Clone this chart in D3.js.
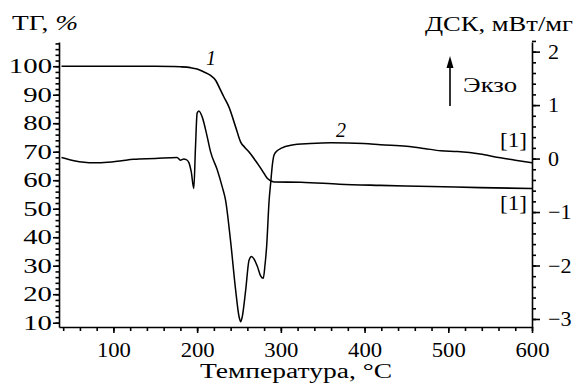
<!DOCTYPE html>
<html>
<head>
<meta charset="utf-8">
<script src="https://cdn.jsdelivr.net/npm/d3@7"></script>
<style>
body { margin: 0; background: #fff; }
text { font-family: "Liberation Serif", serif; fill: #000; }
.axis path, .axis line { stroke: #000; stroke-width: 1.6; }
</style>
</head>
<body>
<div id="vis-container"></div>
<script>
//width and height
var w = 579;
var h = 384;

// TG curve (1), temperature °C -> mass %
var tgT = [38, 60, 100, 150, 170, 180, 192, 200, 208, 216, 222, 228, 232, 238, 246, 252, 257, 262, 267, 272, 278, 284, 292, 324, 370, 419, 480, 538, 600];
var tgV = [100, 100, 100, 100, 99.9, 99.8, 99.5, 99, 98, 96.8, 95.1, 91.6, 89.2, 85.7, 78.7, 73.4, 71.5, 69.9, 68.0, 65.9, 63.3, 60.6, 59.4, 59.3, 58.6, 58.2, 57.8, 57.4, 57.1];

// DSC curve (2), temperature °C -> mW/mg
var dscT = [38, 53, 65, 77, 93, 110, 124, 150, 176, 180, 184, 187, 190, 193, 196, 198, 200, 202, 206, 212, 216, 224, 230, 234, 240, 246, 250, 252, 254, 258, 262, 265, 268, 272, 276, 279, 281, 283, 286, 288, 290, 292, 296, 300, 312, 335, 360, 399, 419, 450, 471, 491, 511, 538, 560, 580, 600];
var dscV = [0.02, -0.04, -0.07, -0.08, -0.07, -0.04, -0.015, 0.0, 0.02, -0.03, -0.01, -0.02, -0.07, -0.25, -0.56, 0.2, 0.85, 0.89, 0.78, 0.41, 0.13, -0.21, -0.53, -0.78, -1.55, -2.46, -2.95, -3.05, -2.95, -2.46, -1.9, -1.83, -1.88, -2.02, -2.2, -2.24, -2.0, -1.65, -0.78, -0.43, -0.1, 0.07, 0.15, 0.19, 0.25, 0.28, 0.295, 0.284, 0.26, 0.23, 0.19, 0.146, 0.13, 0.084, 0.02, -0.03, -0.08];

// tick labels
var tTicks = [100, 200, 300, 400, 500, 600];
var tgTicks = [10, 20, 30, 40, 50, 60, 70, 80, 90, 100];
var dscTicks = [-3, -2, -1, 0, 1, 2];
var tMinor = d3.range(40, 601, 20);
var tgMinor = d3.range(10, 109, 2);
var dscMinor = d3.range(-3, 2.21, 0.2);

//scale function
var xScale = d3.scaleLinear().domain([35, 600]).range([59, 532]);
var yTG = d3.scaleLinear().domain([8.5, 108.5]).range([327, 42]);
var yDSC = d3.scaleLinear().domain([-3.15, 2.18]).range([327, 42]);

var svg = d3.select("#vis-container")
    .append("svg")
    .attr("width", w)
    .attr("height", h);

// stretch text horizontally (the original figure is wider than the font)
function stretch(sel, k) {
    sel.each(function () {
        var l = this.getComputedTextLength();
        d3.select(this).attr("textLength", l * k).attr("lengthAdjust", "spacingAndGlyphs");
    });
}
function fitTo(sel, width) {
    sel.attr("textLength", width).attr("lengthAdjust", "spacingAndGlyphs");
}

//x axis
svg.append("g")
    .attr("class", "axis")
    .attr("transform", "translate(0,327)")
    .call(d3.axisBottom(xScale).tickValues(tMinor).tickSize(4).tickSizeOuter(0).tickFormat(""));
var gx = svg.append("g")
    .attr("class", "axis")
    .attr("transform", "translate(0,327)")
    .call(d3.axisBottom(xScale).tickValues(tTicks).tickSize(6).tickSizeOuter(0).tickPadding(9));
gx.select(".domain").remove();
gx.selectAll("text").style("font-size", "21px").attr("font-family", null);
stretch(gx.selectAll("text"), 1.08);

//left y axis (TG)
svg.append("g")
    .attr("class", "axis")
    .attr("transform", "translate(59,0)")
    .call(d3.axisLeft(yTG).tickValues(tgMinor).tickSize(3.5).tickSizeOuter(0).tickFormat(""));
var gl = svg.append("g")
    .attr("class", "axis")
    .attr("transform", "translate(59,0)")
    .call(d3.axisLeft(yTG).tickValues(tgTicks).tickSize(6).tickSizeOuter(0).tickPadding(1));
gl.select(".domain").remove();
gl.selectAll("text").style("font-size", "21px").attr("font-family", null);
stretch(gl.selectAll("text"), 1.37);

//right y axis (DSC)
svg.append("g")
    .attr("class", "axis")
    .attr("transform", "translate(532,0)")
    .call(d3.axisRight(yDSC).tickValues(dscMinor).tickSize(4).tickSizeOuter(0).tickFormat(""));
var gr = svg.append("g")
    .attr("class", "axis")
    .attr("transform", "translate(532,0)")
    .call(d3.axisRight(yDSC).tickValues(dscTicks).tickSize(8).tickSizeOuter(0).tickPadding(8)
        .tickFormat(function (d) { return d < 0 ? "\u2212" + (-d) : d; }));
gr.select(".domain").remove();
gr.selectAll("text").style("font-size", "21px").attr("font-family", null);
stretch(gr.selectAll("text"), 1.05);

// curves
var tgLine = d3.line()
    .x(function (d) { return xScale(d[0]); })
    .y(function (d) { return yTG(d[1]); })
    .curve(d3.curveMonotoneX);
var dscLine = d3.line()
    .x(function (d) { return xScale(d[0]); })
    .y(function (d) { return yDSC(d[1]); })
    .curve(d3.curveMonotoneX);

svg.append("path")
    .datum(d3.zip(tgT, tgV))
    .attr("fill", "none")
    .attr("stroke", "#000")
    .attr("stroke-width", 1.6)
    .attr("d", tgLine);

svg.append("path")
    .datum(d3.zip(dscT, dscV))
    .attr("fill", "none")
    .attr("stroke", "#000")
    .attr("stroke-width", 1.5)
    .attr("d", dscLine);

// axis titles
var t1 = svg.append("text").attr("x", 12).attr("y", 30).style("font-size", "21px");
t1.append("tspan").text("ТГ, ");
t1.append("tspan").style("font-style", "italic").text("%");
fitTo(t1, 66);

fitTo(svg.append("text").attr("x", 425).attr("y", 31).style("font-size", "21px")
    .text("ДСК, мВт/мг"), 148);

fitTo(svg.append("text").attr("x", 296).attr("y", 378).attr("text-anchor", "middle")
    .style("font-size", "20px").text("Температура, °C"), 192);

// exo arrow
svg.append("line")
    .attr("x1", 450).attr("x2", 450).attr("y1", 106).attr("y2", 64)
    .attr("stroke", "#000").attr("stroke-width", 1.6);
svg.append("path")
    .attr("d", "M446.5,68 L450,56 L453.5,68 Z")
    .attr("fill", "#000");
fitTo(svg.append("text").attr("x", 463).attr("y", 92).style("font-size", "21px").text("Экзо"), 54);

// curve labels
svg.append("text").attr("x", 211).attr("y", 65).attr("text-anchor", "middle")
    .style("font-size", "20px").style("font-style", "italic").text("1");
svg.append("text").attr("x", 341).attr("y", 137).attr("text-anchor", "middle")
    .style("font-size", "20px").style("font-style", "italic").text("2");

// reference marks
fitTo(svg.append("text").attr("x", 500).attr("y", 147).style("font-size", "21px").text("[1]"), 27);
fitTo(svg.append("text").attr("x", 500).attr("y", 210).style("font-size", "21px").text("[1]"), 27);
</script>
</body>
</html>
